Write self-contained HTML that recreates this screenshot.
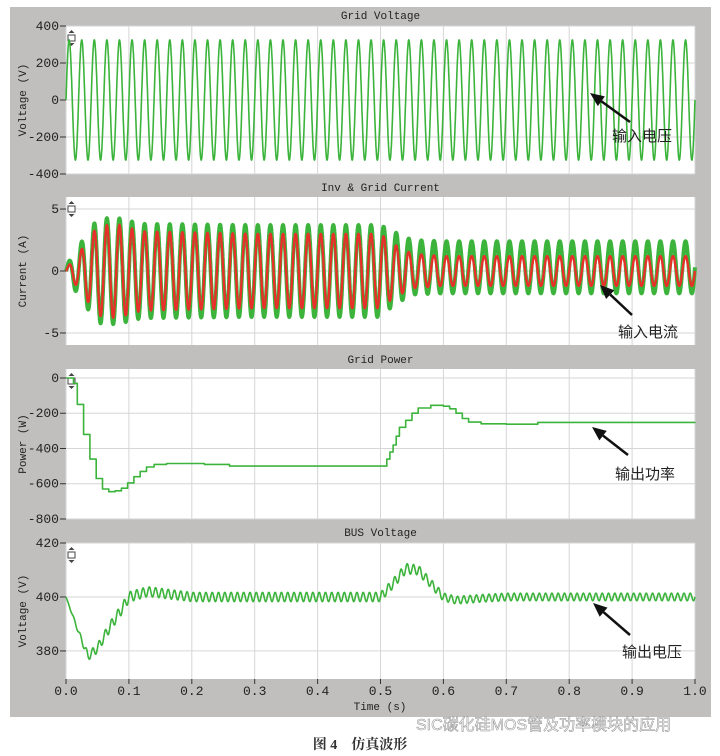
<!DOCTYPE html>
<html><head><meta charset="utf-8">
<style>
html,body{margin:0;padding:0;background:#fff;width:720px;height:756px;overflow:hidden}
svg{display:block}
.tk{font-family:"Liberation Mono",monospace;font-size:13px;fill:#222}
.tt{font-family:"Liberation Mono",monospace;font-size:11px;fill:#222}
.cn{font-family:"Liberation Sans","Noto Sans CJK SC",sans-serif;font-size:15px;fill:#222}
</style></head>
<body>
<svg id="chart" width="720" height="756">
<rect x="10" y="7" width="701" height="710" fill="#c0bfbd"/>
<g id="layer"></g>
<text x="360" y="749" text-anchor="middle" font-family="'Liberation Serif','Noto Serif CJK SC',serif" font-size="14" font-weight="bold" fill="#333">图 4　仿真波形</text>
<text x="416" y="730" font-family="'Liberation Sans','Noto Sans CJK SC',sans-serif" font-size="16" fill="#fff" stroke="#999" stroke-width="0.6">SIC碳化硅MOS管及功率模块的应用</text>
</svg>
<script>
// ---- data ----
const xTicks = [0.0,0.1,0.2,0.3,0.4,0.5,0.6,0.7,0.8,0.9,1.0];
const voltTicks = [400,200,0,-200,-400];
const currTicks = [5,0,-5];
const powTicks = [0,-200,-400,-600,-800];
const busTicks = [420,400,380];
const gridFreq = 50;
const gridAmp = 325;
const ampTimes = [0,0.02,0.05,0.08,0.12,0.3,0.5,0.52,0.55,0.6,1.0];
const greenAmp = [0.4,2.0,4.2,4.3,3.8,3.7,3.7,3.0,2.2,2.1,2.1];
const redAmp   = [0.2,1.4,3.6,3.8,3.2,3.0,3.0,2.2,1.4,1.2,1.2];
const greenOffset = [0,0,0,0,0,0,0,0.2,0.3,0.3,0.3];
const powTimes = [0,0.012,0.018,0.028,0.038,0.048,0.058,0.068,0.078,0.088,0.098,0.108,0.118,0.128,0.14,0.16,0.22,0.26,0.5,0.51,0.515,0.52,0.525,0.53,0.54,0.55,0.56,0.58,0.6,0.61,0.62,0.63,0.64,0.66,0.7,0.75,1.0];
const powVals  = [0,-30,-150,-320,-460,-570,-630,-645,-640,-625,-595,-560,-530,-505,-490,-485,-490,-500,-500,-460,-420,-380,-330,-280,-240,-200,-170,-155,-160,-175,-200,-230,-250,-260,-262,-252,-250];
const busTimes = [0,0.02,0.035,0.05,0.07,0.09,0.1,0.13,0.2,0.5,0.52,0.54,0.56,0.58,0.6,0.62,0.66,0.7,1.0];
const busMean  = [400,387,378,381,389,396,400,402,400,400,405,410.5,410,405,400,398.8,399.5,400,400];
const busRipple= [0,0.8,1.5,1.7,1.9,2.0,1.9,1.8,1.7,1.7,1.8,1.9,1.8,1.6,1.5,1.4,1.4,1.4,1.4];

const NS="http://www.w3.org/2000/svg";
const L=document.getElementById('layer');
const X0=66,X1=695;
const xs=t=>X0+(X1-X0)*t;
function mk(tag,attrs,parent){const e=document.createElementNS(NS,tag);for(const k in attrs)e.setAttribute(k,attrs[k]);(parent||L).appendChild(e);return e;}
function interp(ts,vs,t){if(t<=ts[0])return vs[0];for(let i=1;i<ts.length;i++){if(t<=ts[i]){const f=(t-ts[i-1])/(ts[i]-ts[i-1]);return vs[i-1]+f*(vs[i]-vs[i-1]);}}return vs[vs.length-1];}
function step(ts,vs,t){let v=vs[0];for(let i=0;i<ts.length;i++){if(t>=ts[i])v=vs[i];}return v;}

const panels=[
 {name:'grid-voltage',title:'Grid Voltage',ylab:'Voltage (V)',top:26,bot:174,ymax:400,ymin:-400,ticks:voltTicks,titleY:19},
 {name:'grid-current',title:'Inv & Grid Current',ylab:'Current (A)',top:197,bot:345,ymax:5.97,ymin:-5.97,ticks:currTicks,titleY:191},
 {name:'grid-power',title:'Grid Power',ylab:'Power (W)',top:369,bot:519,ymax:51,ymin:-800,ticks:powTicks,titleY:363},
 {name:'bus-voltage',title:'BUS Voltage',ylab:'Voltage (V)',top:543,bot:679,ymax:420,ymin:369.6,ticks:busTicks,titleY:536}
];
panels.forEach(p=>{
 p.ys=v=>p.bot-(v-p.ymin)/(p.ymax-p.ymin)*(p.bot-p.top);
 const g=mk('g',{});
 
 
 const r=mk('rect',{x:X0,y:p.top,width:X1-X0,height:p.bot-p.top,fill:'#fff'},g);
 
 
 xTicks.forEach(t=>{const l=mk('line',{x1:xs(t),x2:xs(t),y1:p.top,y2:p.bot,stroke:'#d6d6d6','stroke-width':1},g);
  
  });
 p.ticks.forEach(v=>{const y=p.ys(v);
  const gl=mk('line',{x1:X0,x2:X1,y1:y,y2:y,stroke:'#d6d6d6','stroke-width':1},g);
  
  
  mk('line',{x1:X0-6,x2:X0,y1:y,y2:y,stroke:'#333'},g);
  const tx=mk('text',{x:X0-7,y:y+4,'text-anchor':'end',class:'tk'},g);tx.textContent=v;
  
  });
 const tt=mk('text',{x:(X0+X1)/2,y:p.titleY,'text-anchor':'middle',class:'tt'},g);tt.textContent=p.title;
 
 
 const cy=(p.top+p.bot)/2;
 const yl=mk('text',{x:26,y:cy,'text-anchor':'middle',class:'tt',transform:`rotate(-90 26 ${cy})`},g);yl.textContent=p.ylab;
 
 
 const ic=mk('g',{},g);
 
 
 mk('rect',{x:68,y:p.top+9,width:7,height:6,fill:'#fff',stroke:'#444'},ic);
 mk('path',{d:`M71.5 ${p.top+4} l3 3 h-6z M71.5 ${p.top+20} l3 -3 h-6z`,fill:'#444'},ic);
});
const pb=panels[3];
xTicks.forEach(t=>{mk('line',{x1:xs(t),x2:xs(t),y1:pb.bot,y2:pb.bot+5,stroke:'#333'});
 const tx=mk('text',{x:xs(t),y:pb.bot+16,'text-anchor':'middle',class:'tk'});tx.textContent=t.toFixed(1);
 
 });
const xt=mk('text',{x:380,y:710,'text-anchor':'middle',class:'tt'});xt.textContent='Time (s)';



function poly(pts,color,w,name){const e=mk('polyline',{points:pts.map(p=>p[0].toFixed(1)+','+p[1].toFixed(1)).join(' '),fill:'none',stroke:color,'stroke-width':w,'stroke-linejoin':'round'});
 
 }
const N=4000;
{const p=panels[0],pts=[];for(let i=0;i<=N;i++){const t=i/N;pts.push([xs(t),p.ys(gridAmp*Math.sin(2*Math.PI*gridFreq*t))]);}poly(pts,'#3cb43c',1.6,'grid-voltage-line');}
{const p=panels[1],pg=[],pr=[];for(let i=0;i<=N;i++){const t=i/N;const s=Math.sin(2*Math.PI*gridFreq*t);
 pg.push([xs(t),p.ys(interp(ampTimes,greenAmp,t)*s+interp(ampTimes,greenOffset,t))]);
 pr.push([xs(t),p.ys(interp(ampTimes,redAmp,t)*s)]);}
 poly(pg,'#3cb43c',4,'grid-current-line');poly(pr,'#e8302a',2.4,'inverter-current-line');}
{const p=panels[2],pts=[];let prev=null;for(let i=0;i<=N;i++){const t=i/N;const v=step(powTimes,powVals,t);if(prev!==null&&v!==prev)pts.push([xs(t),p.ys(prev)]);pts.push([xs(t),p.ys(v)]);prev=v;}poly(pts,'#3cb43c',1.6,'grid-power-line');}
{const p=panels[3],pts=[];for(let i=0;i<=N;i++){const t=i/N;pts.push([xs(t),p.ys(interp(busTimes,busMean,t)+interp(busTimes,busRipple,t)*Math.sin(2*Math.PI*100*t))]);}poly(pts,'#3cb43c',1.6,'bus-voltage-line');}

const ann=[['input-voltage-annotation','输入电压',612,141,590,93,630,122],
 ['input-current-annotation','输入电流',618,337,600,285,632,315],
 ['output-power-annotation','输出功率',615,479,592,427,628,455],
 ['output-voltage-annotation','输出电压',622,657,593,603,630,635]];
ann.forEach(a=>{const g=mk('g',{});
 
 
 const [tx,ty,hx,hy,sx,sy]=a.slice(2);
 const ang=Math.atan2(hy-sy,hx-sx),c=Math.cos(ang),s=Math.sin(ang);
 const bx=hx-14*c,by=hy-14*s;
 mk('line',{x1:sx,y1:sy,x2:bx,y2:by,stroke:'#111','stroke-width':2.5},g);
 mk('polygon',{points:`${hx},${hy} ${bx-6*s},${by+6*c} ${bx+6*s},${by-6*c}`,fill:'#111'},g);
 const t=mk('text',{x:tx,y:ty,class:'cn'},g);t.textContent=a[1];});
</script>
</body></html>
